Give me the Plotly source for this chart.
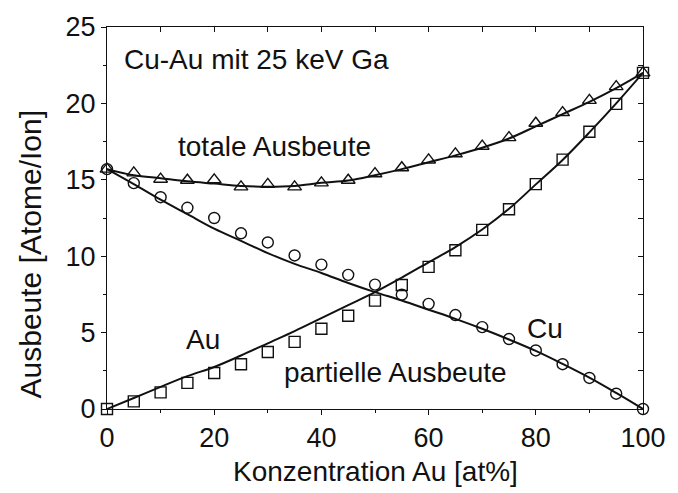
import plotly.graph_objects as go

# Au concentration (at%)
conc = [0, 5, 10, 15, 20, 25, 30, 35, 40, 45, 50, 55, 60, 65, 70, 75, 80, 85, 90, 95, 100]

# measured yields (atoms/ion)
total_yield = [15.7, 15.45, 15.04, 14.97, 15.0, 14.54, 14.7, 14.54, 14.8, 14.97, 15.4,
               15.79, 16.3, 16.7, 17.2, 17.76, 18.7, 19.4, 20.2, 21.1, 22.0]
au_yield = [0.0, 0.5, 1.09, 1.71, 2.36, 2.93, 3.73, 4.39, 5.25, 6.1, 7.09, 8.12, 9.3,
            10.39, 11.72, 13.07, 14.72, 16.32, 18.14, 19.97, 22.0]
cu_yield = [15.7, 14.78, 13.86, 13.17, 12.5, 11.5, 10.9, 10.05, 9.45, 8.78, 8.14, 7.48,
            6.88, 6.15, 5.36, 4.58, 3.83, 2.93, 2.03, 1.0, 0.0]

# model curves (atoms/ion)
total_fit = [15.7, 15.3, 15.1, 14.9, 14.75, 14.6, 14.55, 14.6, 14.8, 14.95, 15.3,
             15.7, 16.15, 16.6, 17.1, 17.7, 18.5, 19.3, 20.1, 21.0, 22.0]
au_fit = [0.0, 0.72, 1.45, 2.15, 2.75, 3.5, 4.3, 5.1, 5.95, 6.8, 7.65, 8.6, 9.6,
          10.6, 11.75, 13.1, 14.7, 16.3, 18.1, 20.0, 22.0]
cu_fit = [15.7, 14.72, 13.7, 12.75, 11.8, 11.0, 10.2, 9.5, 8.9, 8.25, 7.65, 7.1, 6.5,
          5.9, 5.25, 4.55, 3.8, 2.95, 2.05, 1.05, 0.0]

x_ticks = [0, 20, 40, 60, 80, 100]
y_ticks = [0, 5, 10, 15, 20, 25]

FONT = "Arial, Liberation Sans, sans-serif"
INK = "#111111"

fig = go.Figure()

for fit in (total_fit, au_fit, cu_fit):
    fig.add_trace(go.Scatter(x=conc, y=fit, mode="lines", line=dict(color=INK, width=2, shape="spline"),
                             hoverinfo="skip", showlegend=False, cliponaxis=False))

for ys, sym in ((total_yield, "triangle-up-open"), (au_yield, "square-open"), (cu_yield, "circle-open")):
    size = 12 if sym.startswith("triangle") else 11
    fig.add_trace(go.Scatter(x=conc, y=ys, mode="markers",
                             marker=dict(symbol=sym, size=size, color=INK, line=dict(width=1.4, color=INK)),
                             showlegend=False, cliponaxis=False))

# companion axes carrying the inward ticks on top and right
fig.add_trace(go.Scatter(x=[0], y=[0], xaxis="x2", yaxis="y2", mode="markers",
                         marker=dict(opacity=0), hoverinfo="skip", showlegend=False))

labels = [
    ("Cu-Au mit 25 keV Ga", 27.9, 22.9),
    ("totale Ausbeute", 31.2, 17.2),
    ("Au", 18.0, 4.55),
    ("partielle Ausbeute", 53.8, 2.4),
    ("Cu", 81.8, 5.3),
]
annotations = [dict(text=t, x=x, y=y, xref="x", yref="y", showarrow=False,
                    font=dict(family=FONT, size=28, color=INK), xanchor="center", yanchor="middle")
               for t, x, y in labels]
annotations.append(dict(text="Konzentration Au [at%]", x=(379.5 - 107) / 544, y=(409 - 473) / 389,
                        xref="paper", yref="paper", showarrow=False, xanchor="center", yanchor="middle",
                        font=dict(family=FONT, size=28, color=INK)))
annotations.append(dict(text="Ausbeute [Atome/Ion]", x=(29 - 107) / 544, y=(409 - 251.5) / 389,
                        xref="paper", yref="paper", showarrow=False, xanchor="center", yanchor="middle",
                        textangle=-90, font=dict(family=FONT, size=30, color=INK)))

axis_common = dict(showgrid=False, zeroline=False, showline=True, linecolor=INK, linewidth=1,
                   tickcolor=INK, tickwidth=1, tickfont=dict(family=FONT, size=27, color=INK))

fig.update_layout(
    width=678, height=493,
    margin=dict(l=107, r=27, t=20, b=84),
    paper_bgcolor="white", plot_bgcolor="white",
    showlegend=False,
    annotations=annotations,
    xaxis=dict(range=[0, 100], tickvals=x_ticks, ticks="outside", ticklen=5,
               minor=dict(dtick=10, ticklen=3, ticks="outside", tickcolor=INK), **axis_common),
    yaxis=dict(range=[0, 25], tickvals=y_ticks, ticks="outside", ticklen=5,
               minor=dict(dtick=2.5, ticklen=3, ticks="outside", tickcolor=INK), **axis_common),
    xaxis2=dict(range=[0, 100], overlaying="x", side="top", dtick=10, ticks="inside", ticklen=5,
                showticklabels=False, showgrid=False, zeroline=False, showline=True,
                linecolor=INK, linewidth=1, tickcolor=INK),
    yaxis2=dict(range=[0, 25], overlaying="y", side="right", dtick=2.5, ticks="inside", ticklen=5,
                showticklabels=False, showgrid=False, zeroline=False, showline=True,
                linecolor=INK, linewidth=1, tickcolor=INK),
)

fig.write_html("out.html")
